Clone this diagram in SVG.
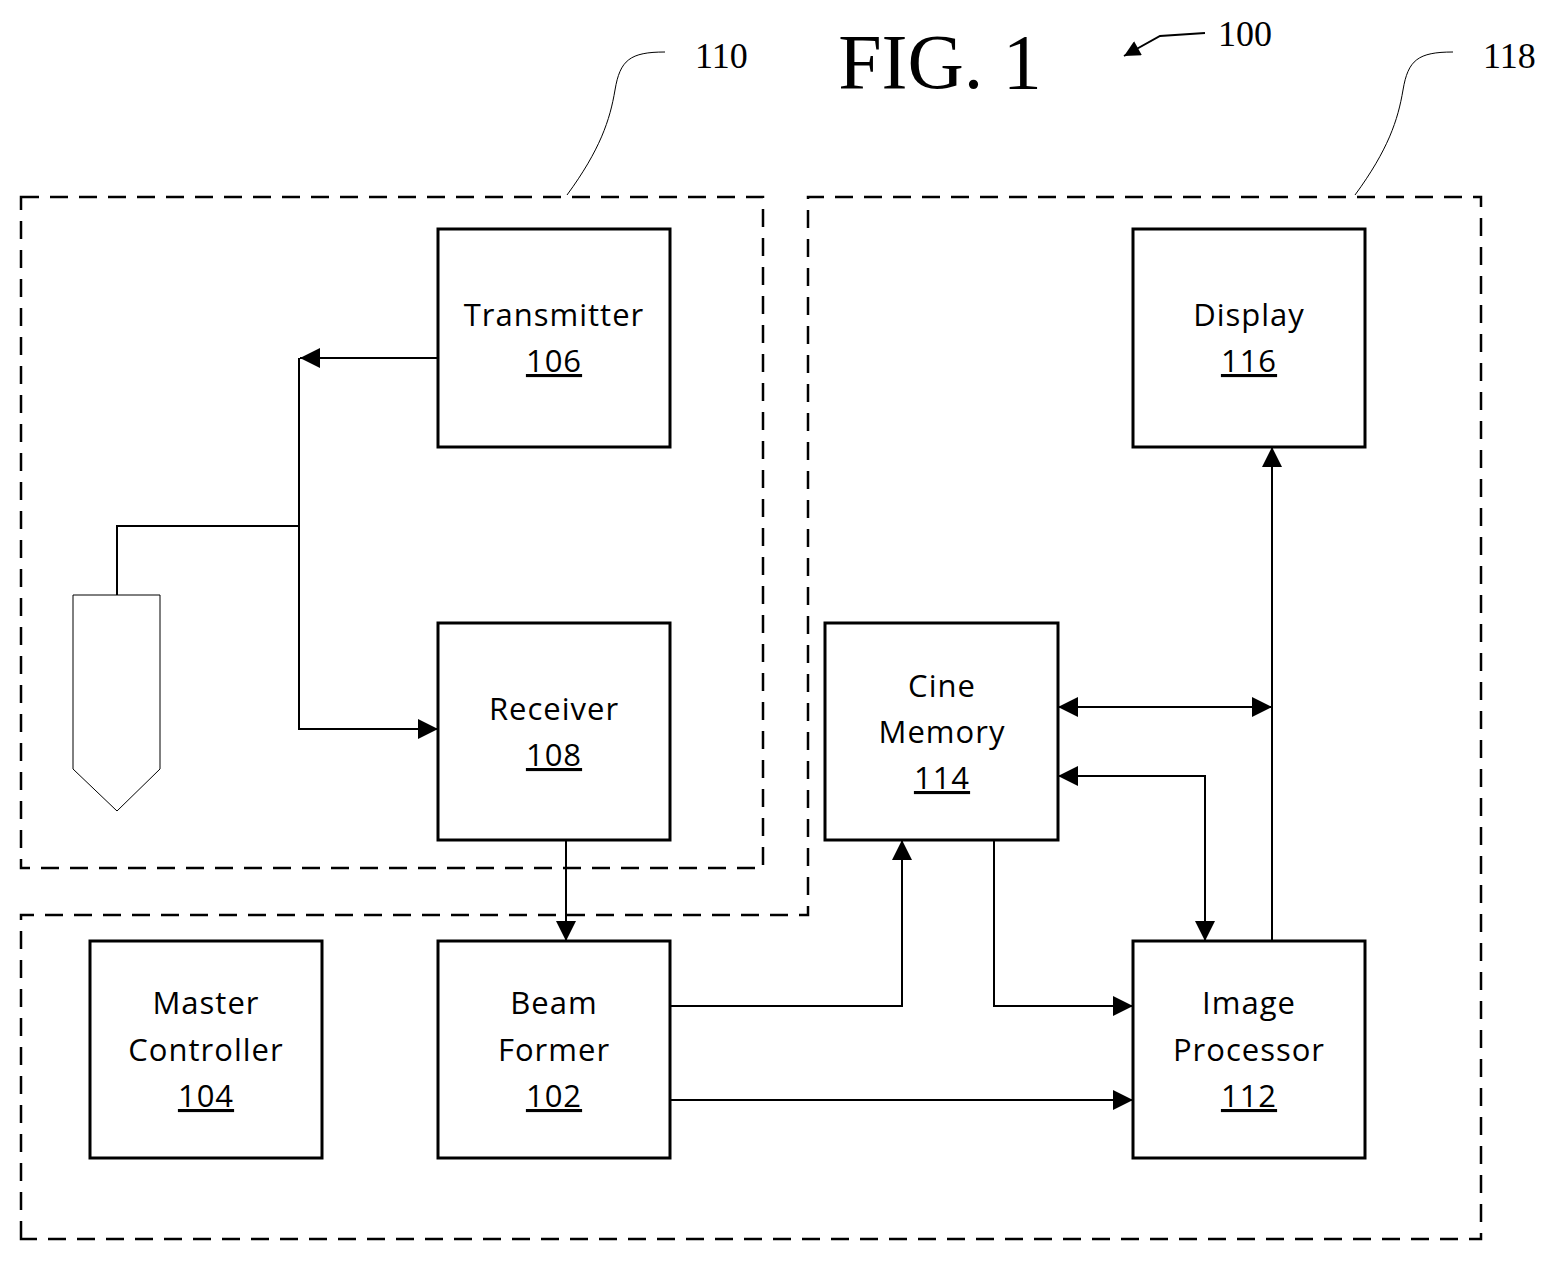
<svg xmlns="http://www.w3.org/2000/svg" width="1557" height="1261" viewBox="0 0 1557 1261">
<style>
.box{fill:#fff;stroke:#000;stroke-width:3}
.grp{fill:none;stroke:#000;stroke-width:2.5;stroke-dasharray:18 11}
.ln{fill:none;stroke:#000;stroke-width:2}
.lt{fill:none;stroke:#000;stroke-width:1}
.t{font-family:"Open Sans","Liberation Sans",sans-serif;font-size:31px;letter-spacing:1px;text-anchor:middle;fill:#000}
.u{text-decoration:underline}
.s{font-family:"Liberation Serif",serif;fill:#000}
</style>
<defs>
<marker id="a" viewBox="0 0 10 10" refX="10" refY="5" markerWidth="30" markerHeight="20" markerUnits="userSpaceOnUse" orient="auto-start-reverse"><path d="M0,0L10,5L0,10z" fill="#000"/></marker>
<marker id="b" viewBox="0 0 10 10" refX="10" refY="5" markerWidth="20" markerHeight="16" markerUnits="userSpaceOnUse" orient="auto"><path d="M0,0L10,5L0,10z" fill="#000"/></marker>
</defs>
<text class="s" x="940" y="88" font-size="78" text-anchor="middle">FIG. 1</text>
<text class="s" x="1218" y="46" font-size="36">100</text>
<path class="ln" d="M1205,33 L1160,36 L1124,56" marker-end="url(#b)"/>
<text class="s" x="695" y="68" font-size="36">110</text>
<text class="s" x="1483" y="68" font-size="36">118</text>
<path class="lt" d="M567,195 C600,150 610,120 615,90 C620,60 630,52 665,52"/>
<path class="lt" d="M1355,195 C1388,150 1398,120 1403,90 C1408,60 1418,52 1453,52"/>
<g id="group110"><rect class="grp" x="21" y="197" width="742" height="671"/></g>
<g id="group118"><path class="grp" d="M21,1239 L21,915 L808,915 L808,197 L1481,197 L1481,1239 Z"/></g>
<g id="probe"><path class="lt" d="M73,595 L160,595 L160,769 L117,811 L73,769 Z" fill="#fff"/></g>
<g id="connectors">
<path class="ln" d="M438,358 L300,358" marker-end="url(#a)"/>
<path class="ln" d="M299,358 L299,729 L438,729" marker-end="url(#a)"/>
<path class="ln" d="M117,595 L117,526 L299,526"/>
<path class="ln" d="M566,840 L566,941" marker-end="url(#a)"/>
<path class="ln" d="M670,1006 L902,1006 L902,840" marker-end="url(#a)"/>
<path class="ln" d="M670,1100 L1133,1100" marker-end="url(#a)"/>
<path class="ln" d="M994,840 L994,1006 L1133,1006" marker-end="url(#a)"/>
<path class="ln" d="M1272,941 L1272,447" marker-end="url(#a)"/>
<path class="ln" d="M1058,707 L1272,707" marker-start="url(#a)" marker-end="url(#a)"/>
<path class="ln" d="M1058,776 L1205,776 L1205,941" marker-start="url(#a)" marker-end="url(#a)"/>
</g>
<g id="transmitter"><rect class="box" x="438" y="229" width="232" height="218"/><text class="t" x="554" y="326">Transmitter</text><text class="t u" x="554" y="372">106</text></g>
<g id="receiver"><rect class="box" x="438" y="623" width="232" height="217"/><text class="t" x="554" y="720">Receiver</text><text class="t u" x="554" y="766">108</text></g>
<g id="display"><rect class="box" x="1133" y="229" width="232" height="218"/><text class="t" x="1249" y="326">Display</text><text class="t u" x="1249" y="372">116</text></g>
<g id="cine"><rect class="box" x="825" y="623" width="233" height="217"/><text class="t" x="942" y="697">Cine</text><text class="t" x="942" y="743">Memory</text><text class="t u" x="942" y="789">114</text></g>
<g id="master"><rect class="box" x="90" y="941" width="232" height="217"/><text class="t" x="206" y="1014">Master</text><text class="t" x="206" y="1061">Controller</text><text class="t u" x="206" y="1107">104</text></g>
<g id="beam"><rect class="box" x="438" y="941" width="232" height="217"/><text class="t" x="554" y="1014">Beam</text><text class="t" x="554" y="1061">Former</text><text class="t u" x="554" y="1107">102</text></g>
<g id="image"><rect class="box" x="1133" y="941" width="232" height="217"/><text class="t" x="1249" y="1014">Image</text><text class="t" x="1249" y="1061">Processor</text><text class="t u" x="1249" y="1107">112</text></g>
</svg>
